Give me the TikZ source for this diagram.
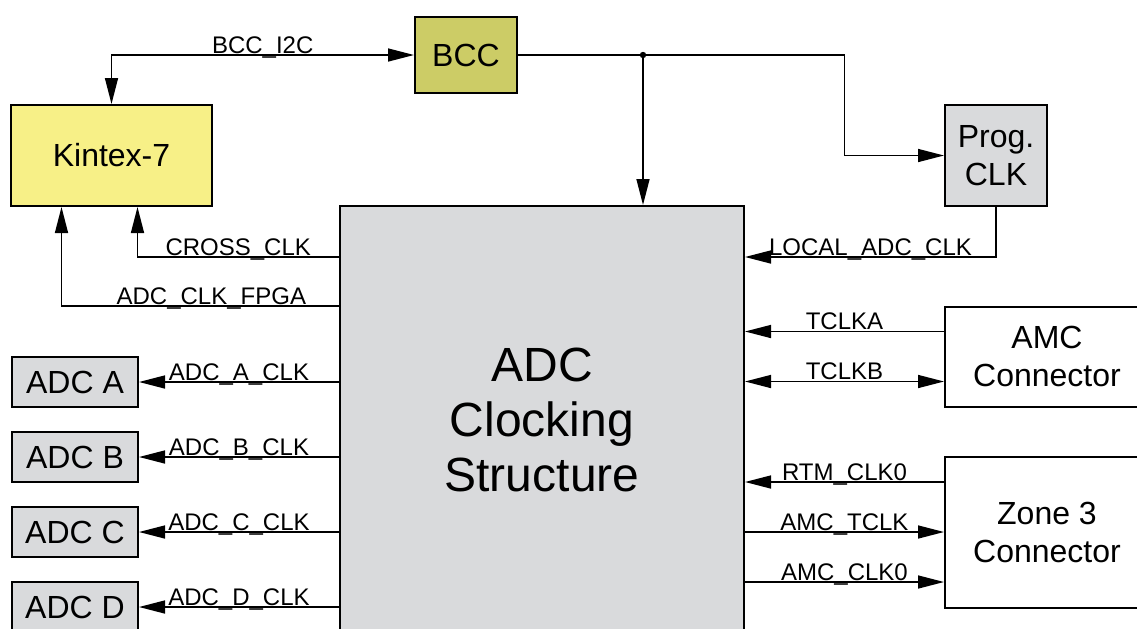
\documentclass[tikz,border=0pt]{standalone}
\usepackage{fontspec}
\setmainfont{Liberation Sans}
\usetikzlibrary{arrows.meta}
\definecolor{kintexyellow}{HTML}{F7F087}
\definecolor{bccolive}{HTML}{CCCC66}
\definecolor{blockgray}{HTML}{D9DADC}
\tikzset{
	block/.style={draw, line width=1pt, inner sep=0pt, align=center, font=\fontsize{16}{19}\selectfont},
	sig/.style={line width=0.75pt},
	lbl/.style={anchor=base, yshift=0.8pt, inner sep=0pt, font=\fontsize{12}{14}\selectfont},
}
\begin{document}
\begin{tikzpicture}[x=0.5pt, y=-0.5pt, >={Triangle[length=13pt,width=6.5pt]}]
	\useasboundingbox (0,0) rectangle (1137,628);
	\clip (0,0) rectangle (1137,628);
	\node[block, fill=kintexyellow, minimum width=100.5pt, minimum height=50.5pt] (kintex) at (111.5,155.5) {Kintex-7};
	\node[block, fill=bccolive, minimum width=51pt, minimum height=38pt] (bcc) at (466,55) {BCC};
	\node[block, fill=blockgray, minimum width=51pt, minimum height=50.5pt] (prog) at (996,155.5) {Prog.\\CLK};
	\node[block, fill=blockgray, minimum width=202pt, minimum height=214pt, font=\fontsize{24}{27.5}\selectfont] (adcs) at (542,420) {ADC\\Clocking\\Structure};
	\node[block, fill=blockgray, minimum width=63pt, minimum height=25pt] (adca) at (75,382) {ADC A};
	\node[block, fill=blockgray, minimum width=63pt, minimum height=25pt] (adcb) at (75,457) {ADC B};
	\node[block, fill=blockgray, minimum width=63pt, minimum height=25pt] (adcc) at (75,532) {ADC C};
	\node[block, fill=blockgray, minimum width=63pt, minimum height=25pt] (adcd) at (75,607) {ADC D};
	\node[block, fill=white, minimum width=102pt, minimum height=50pt] (amc) at (1047,356.5) {AMC\\Connector};
	\node[block, fill=white, minimum width=102pt, minimum height=75.5pt] (zone) at (1047,532) {Zone 3\\Connector};

	\draw[sig, <->] (kintex.north) |- (bcc.west) node[lbl, pos=0.75] {BCC\_I2C};
	\coordinate (split) at (643,55);
	\coordinate (bend) at (844.5,55);
	\draw[sig] (bcc.east) -- (split);
	\fill (split) circle (1.6pt);
	\draw[sig, ->] (split) -- (split |- adcs.north);
	\draw[sig, ->] (split) -- (bend) |- (prog.west);
	\draw[sig, ->] (prog.south) -- ++(0,50) coordinate (localclk) -- (localclk -| adcs.east) node[lbl, midway] {LOCAL\_ADC\_CLK};

	\coordinate (fpgaclk) at (0,306);
	\draw[sig, ->] (adcs.west |- localclk) -| ([xshift=13pt]kintex.south) node[lbl, pos=0.25] {CROSS\_CLK};
	\draw[sig, ->] (adcs.west |- fpgaclk) -| ([xshift=-25pt]kintex.south) node[lbl, pos=0.23] {ADC\_CLK\_FPGA};

	\draw[sig, ->] (adcs.west |- adca.east) -- (adca.east) node[lbl, midway] {ADC\_A\_CLK};
	\draw[sig, ->] (adcs.west |- adcb.east) -- (adcb.east) node[lbl, midway] {ADC\_B\_CLK};
	\draw[sig, ->] (adcs.west |- adcc.east) -- (adcc.east) node[lbl, midway] {ADC\_C\_CLK};
	\draw[sig, ->] (adcs.west |- adcd.east) -- (adcd.east) node[lbl, midway] {ADC\_D\_CLK};

	\coordinate (tclka) at ([yshift=12.5pt]amc.west);
	\coordinate (tclkb) at ([yshift=-12.5pt]amc.west);
	\draw[sig, ->] (tclka) -- (tclka -| adcs.east) node[lbl, midway] {TCLKA};
	\draw[sig, <->] (tclkb -| adcs.east) -- (tclkb) node[lbl, midway] {TCLKB};

	\coordinate (rtmclk) at ([yshift=25pt]zone.west);
	\coordinate (amcclk) at ([yshift=-25pt]zone.west);
	\draw[sig, ->] (rtmclk) -- (rtmclk -| adcs.east) node[lbl, midway] {RTM\_CLK0};
	\draw[sig, ->] (zone.west -| adcs.east) -- (zone.west) node[lbl, midway] {AMC\_TCLK};
	\draw[sig, ->] (amcclk -| adcs.east) -- (amcclk) node[lbl, midway] {AMC\_CLK0};
\end{tikzpicture}
\end{document}
